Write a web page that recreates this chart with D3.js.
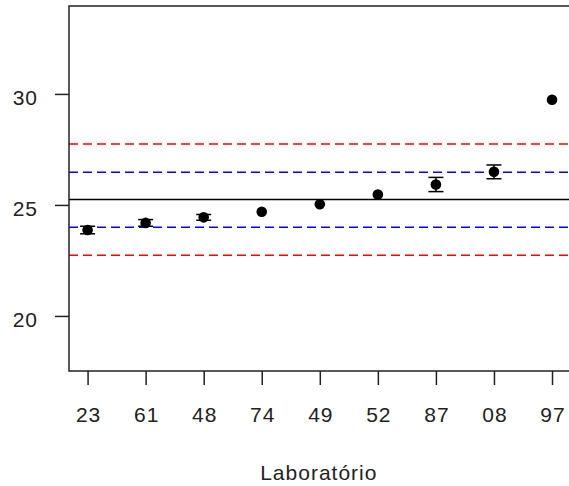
<!DOCTYPE html>
<html>
<head>
<meta charset="utf-8">
<script src="https://cdn.jsdelivr.net/npm/d3@7"></script>
<style>
  body { margin: 0; background: #fff; }
  svg { display: block; font-family: "Liberation Sans", Arial, sans-serif; }
</style>
</head>
<body>
<svg id="chart" width="569" height="486"></svg>
<script>
// labs in plotting order
var labs = ["23", "61", "48", "74", "49", "52", "87", "08", "97"];
var means = [23.87, 24.19, 24.44, 24.69, 25.03, 25.47, 25.92, 26.49, 29.74];
var errs = [0.17, 0.15, 0.13, 0, 0, 0, 0.32, 0.31, 0];

var yTicks = [20, 25, 30];
var centerLine = 25.24;
var innerLimits = [24.0, 26.47];   // blue
var outerLimits = [22.73, 27.74];  // red

var svg = d3.select("#chart");
var plotLeft = 69, plotRight = 570.6, plotTop = 6, plotBottom = 371;

var x = d3.scalePoint().domain(labs).range([plotLeft, plotRight]).padding(0.32);
var y = d3.scaleLinear().domain([17.52, 33.96]).range([plotBottom, plotTop]);

// reference lines
svg.append("line")
  .attr("x1", plotLeft).attr("x2", plotRight)
  .attr("y1", y(centerLine)).attr("y2", y(centerLine))
  .attr("stroke", "#000").attr("stroke-width", 1.5);

var dashed = function(vals, color){
  svg.selectAll(null).data(vals).enter().append("line")
    .attr("x1", plotLeft).attr("x2", plotRight)
    .attr("y1", function(d){ return y(d); })
    .attr("y2", function(d){ return y(d); })
    .attr("stroke", color).attr("stroke-width", 1.5)
    .attr("stroke-dasharray", "9,5");
};
dashed(outerLimits, "#ff0000");
dashed(innerLimits, "#0000ff");

// error bars
var bars = labs.map(function(l, i){ return {lab: l, m: means[i], e: errs[i]}; })
  .filter(function(d){ return d.e > 0; });

var eb = svg.selectAll("g.eb").data(bars).enter().append("g").attr("class", "eb")
  .attr("stroke", "#000").attr("stroke-width", 1.5);
eb.append("line")
  .attr("x1", function(d){ return x(d.lab); }).attr("x2", function(d){ return x(d.lab); })
  .attr("y1", function(d){ return y(d.m - d.e); }).attr("y2", function(d){ return y(d.m + d.e); });
eb.append("line")
  .attr("x1", function(d){ return x(d.lab) - 7.5; }).attr("x2", function(d){ return x(d.lab) + 7.5; })
  .attr("y1", function(d){ return y(d.m - d.e); }).attr("y2", function(d){ return y(d.m - d.e); });
eb.append("line")
  .attr("x1", function(d){ return x(d.lab) - 7.5; }).attr("x2", function(d){ return x(d.lab) + 7.5; })
  .attr("y1", function(d){ return y(d.m + d.e); }).attr("y2", function(d){ return y(d.m + d.e); });

// points
svg.selectAll("circle").data(labs).enter().append("circle")
  .attr("cx", function(d){ return x(d); })
  .attr("cy", function(d, i){ return y(means[i]); })
  .attr("r", 5.3)
  .attr("fill", "#000");

// axes
var yAxis = svg.append("g")
  .attr("transform", "translate(" + plotLeft + ",0)")
  .call(d3.axisLeft(y).tickValues(yTicks).tickSize(14).tickPadding(17));
var xAxis = svg.append("g")
  .attr("transform", "translate(0," + plotBottom + ")")
  .call(d3.axisBottom(x).tickSize(14).tickPadding(22));

[yAxis, xAxis].forEach(function(g){
  g.select(".domain").remove();
  g.selectAll(".tick line").attr("stroke", "#222").attr("stroke-width", 1.5);
  g.selectAll(".tick text").attr("fill", "#222")
    .attr("font-size", "21px").attr("letter-spacing", "1px")
    .attr("font-family", "Liberation Sans, Arial, sans-serif");
});
yAxis.selectAll(".tick text").attr("dy", "0.5em");
xAxis.selectAll(".tick text").attr("dx", "0.5px");

// plot box
svg.append("rect")
  .attr("x", plotLeft).attr("y", plotTop)
  .attr("width", plotRight - plotLeft).attr("height", plotBottom - plotTop)
  .attr("fill", "none").attr("stroke", "#222").attr("stroke-width", 1.5);

// axis title
svg.append("text")
  .attr("x", (plotLeft + plotRight) / 2 - 1).attr("y", 480)
  .attr("text-anchor", "middle")
  .attr("font-size", "21px").attr("letter-spacing", "1px").attr("fill", "#222")
  .text("Laboratório");
</script>
</body>
</html>
